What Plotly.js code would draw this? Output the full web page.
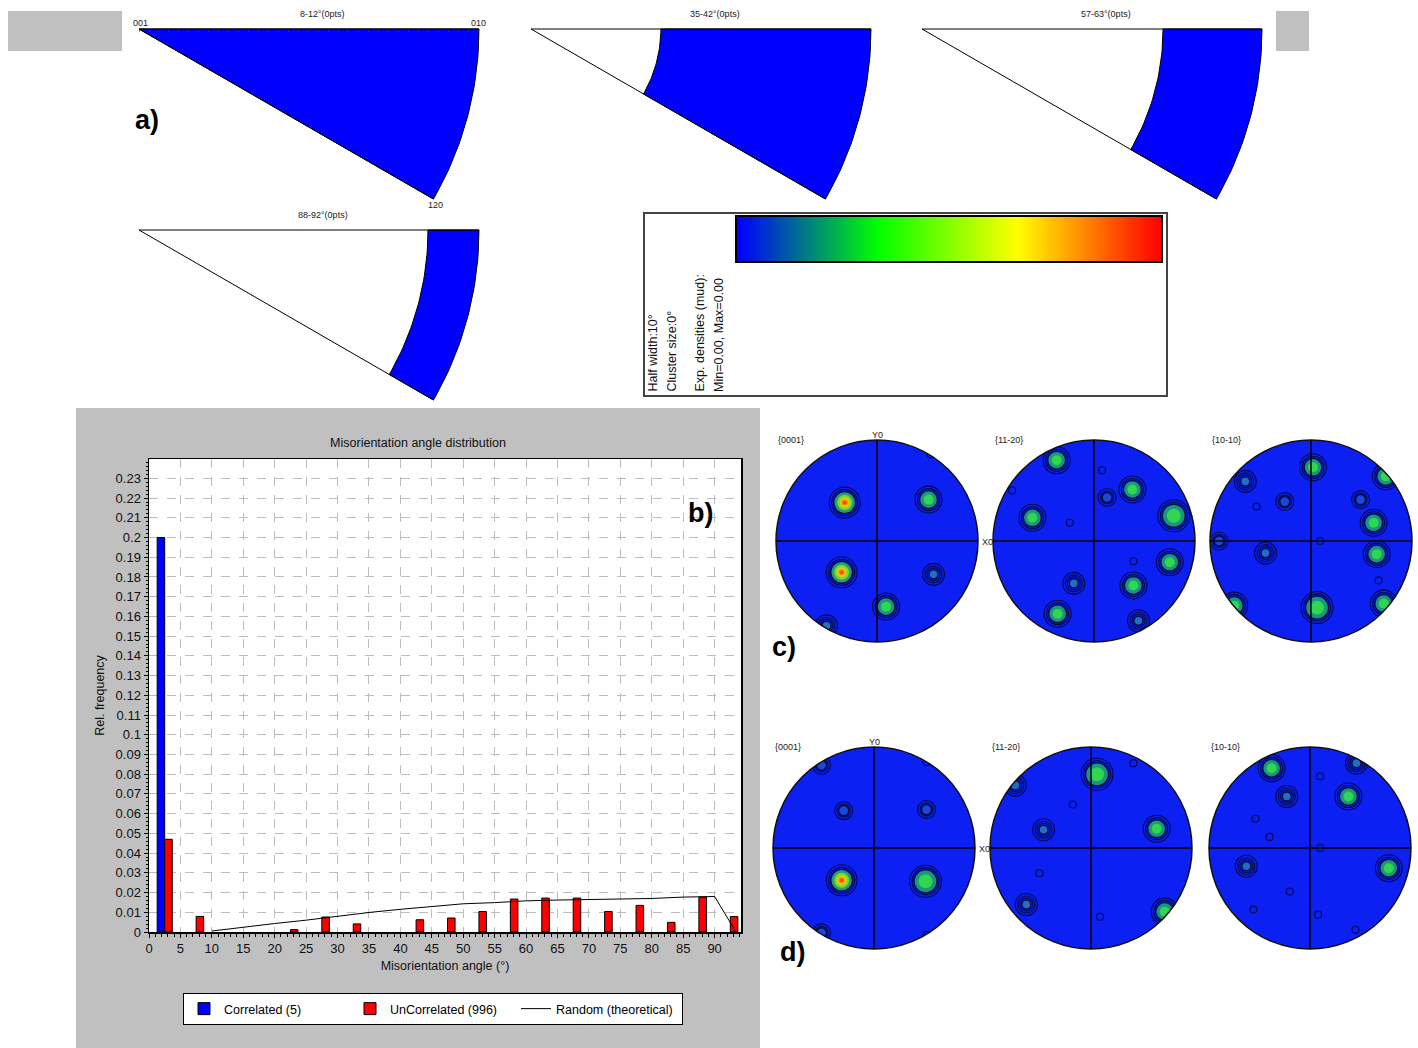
<!DOCTYPE html>
<html><head><meta charset="utf-8">
<script src="https://cdn.plot.ly/plotly-3.0.1.min.js"></script>
<style>html,body{margin:0;padding:0;background:#fff}</style>
</head><body><div id="chart" style="width:1418px;height:1048px"></div>
<script>
// ---------------- DATA ----------------
// b) misorientation angle histogram (5° bins)
const binCenters = [2.5,7.5,12.5,17.5,22.5,27.5,32.5,37.5,42.5,47.5,52.5,57.5,62.5,67.5,72.5,77.5,82.5,87.5,92.5];
const correlatedFreq = [0.2,null,null,null,null,null,null,null,null,null,null,null,null,null,null,null,null,null,null];
const uncorrelatedFreq = [0.047,0.0079,null,null,0.0012,0.0076,0.0041,null,0.0062,0.0071,0.0104,0.0167,0.0172,0.0172,0.0104,0.0135,0.0049,0.0177,0.0078];
const randomAngle = [10,12.5,20,25,30,35,40,45,50,55,60,65,70,75,80,85,90,93.4];
const randomFreq = [0.0005,0.0015,0.0043,0.006,0.008,0.0099,0.0115,0.0128,0.0143,0.0149,0.0158,0.0162,0.0165,0.0169,0.0170,0.0177,0.018,0];
const seriesNames = ['Correlated (5)','UnCorrelated (996)','Random (theoretical)'];
const xTickVals = [0,5,10,15,20,25,30,35,40,45,50,55,60,65,70,75,80,85,90];

// a) inverse pole figure sectors
const ipfTitles = ['8-12°(0pts)','35-42°(0pts)','57-63°(0pts)','88-92°(0pts)'];
const ipfInnerRadius = [0, 0.382, 0.709, 0.85];
const ipfCornerLabels = ['001','010','120'];

// colour key
const cbInfo = ['Half width:10°','Cluster size:0°','Exp. densities (mud):','Min=0.00, Max=0.00'];
const cbStops = [0,0.33,0.66,1];
const cbColors = ['rgb(0,0,255)','rgb(0,255,0)','rgb(255,255,0)','rgb(255,0,0)'];

// c), d) pole figures: spot positions (unit circle) and strength class
const pfNames = ['{0001}','{11-20}','{10-10}','{0001}','{11-20}','{10-10}'];
const pf1X = [-0.32,0.51,-0.35,0.56,0.09,-0.50,0.53];
const pf1Y = [0.38,0.41,-0.31,-0.33,-0.65,-0.84,0.86];
const pf1T = ['r','g','r','t','g','t','s'];
const pf2X = [-0.37,0.38,0.13,0.08,-0.81,-0.61,-0.24,0.79,0.75,0.39,0.39,-0.20,-0.36,0.44];
const pf2Y = [0.80,0.51,0.43,0.70,0.50,0.23,0.18,0.25,-0.21,-0.20,-0.44,-0.42,-0.72,-0.79];
const pf2T = ['g','g','b','s','s','g','s','G','g','s','g','t','g','t'];
const pf3X = [0.02,0.74,-0.65,-0.26,-0.54,0.49,0.62,-0.91,0.09,-0.45,0.65,0.67,0.06,0.72,-0.76];
const pf3Y = [0.73,0.64,0.59,0.39,0.34,0.41,0.18,0.0,0.0,-0.12,-0.13,-0.39,-0.66,-0.62,-0.64];
const pf3T = ['g','g','t','b','s','b','g','b','s','t','g','s','G','g','g'];
const pf4X = [-0.30,0.52,-0.32,0.51,-0.52,-0.52,0.52,0.52];
const pf4Y = [0.37,0.38,-0.32,-0.33,0.82,-0.84,0.85,-0.86];
const pf4T = ['b','b','r','G','b','b','s','s'];
const pf5X = [0.06,0.42,-0.75,-0.18,-0.47,0.65,-0.51,-0.64,0.73,0.09];
const pf5Y = [0.73,0.84,0.62,0.43,0.18,0.19,-0.25,-0.56,-0.63,-0.68];
const pf5T = ['G','s','t','s','t','g','s','t','g','s'];
const pf6X = [-0.38,0.46,0.10,-0.23,0.38,-0.54,-0.40,0.10,-0.63,0.78,-0.20,-0.56,0.08,0.45];
const pf6Y = [0.79,0.84,0.71,0.51,0.51,0.29,0.11,0.0,-0.18,-0.20,-0.43,-0.61,-0.66,-0.81];
const pf6T = ['g','t','s','t','g','s','s','s','t','g','s','s','s','s'];

// ---------------- LAYOUT GEOMETRY / STYLE ----------------
const W = 1418, H = 1048;
const px = x => x / W;
const py = y => 1 - y / H;
const FONT = 'Liberation Sans, Arial, sans-serif';
const ipfOrigin = [[139,29],[531,29],[922,29],[139,230]];
const ipfR = 340;
const pfCenter = [[877,541],[1094,541],[1311,541],[874,848],[1091,848],[1310,848]];
const pfR = 101;
const pfBlue = 'rgb(12,32,244)';
const spotStyle = {
  r: {rings:[31,26], layers:[[22,'#2fd24a'],[15,'#a8f000'],[10,'#ffd200'],[6,'#ff6000'],[3,'#ff1800']]},
  g: {rings:[27,22], layers:[[18,'#1ec850'],[10,'#3cf03c']]},
  G: {rings:[32,27], layers:[[23,'#1ec850'],[14,'#3cf03c']]},
  t: {rings:[22,17,13], layers:[[9,'#2a8fb2']]},
  b: {rings:[18,13], layers:[[10,'#1f5ad6']]},
  s: {rings:[7], layers:[]}
};

const traces = [];
const shapes = [];
const annotations = [];
function ann(text, x, y, size, extra) {
  annotations.push(Object.assign({text: text, xref:'paper', yref:'paper', x: px(x), y: py(y),
    xanchor:'center', yanchor:'middle', showarrow:false,
    font:{family:FONT, size:size, color:'#222'}}, extra || {}));
}
const layout = {
  width: W, height: H, autosize: false,
  margin: {l:0, r:0, t:0, b:0},
  paper_bgcolor: '#ffffff', plot_bgcolor: '#ffffff',
  font: {family: FONT, color: '#000'},
  showlegend: true,
  barmode: 'overlay',
  title: {text: 'Misorientation angle distribution', x: px(418), y: py(443), xanchor: 'center', yanchor: 'middle',
          xref: 'paper', yref: 'paper', font: {family: FONT, size: 12.5, color: '#111'}},
  legend: {orientation: 'h', x: px(183), y: py(993), xanchor: 'left', yanchor: 'top',
           bgcolor: '#ffffff', bordercolor: '#000', borderwidth: 1, font: {family: FONT, size: 12.5},
           entrywidth: 121, entrywidthmode: 'pixels'},
  shapes: shapes, annotations: annotations
};

// ---------- b) histogram ----------
const histDomX = [149, 741], histDomY = [459, 932];
shapes.push({type:'rect', xref:'paper', yref:'paper', x0:px(76), x1:px(760), y0:py(1048), y1:py(408),
             fillcolor:'#c0c0c0', line:{width:0}, layer:'below'});
shapes.push({type:'rect', xref:'paper', yref:'paper', x0:px(histDomX[0]), x1:px(histDomX[1]),
             y0:py(histDomY[1]), y1:py(histDomY[0]), fillcolor:'#ffffff', line:{width:0}, layer:'below'});
layout.xaxis = {domain:[px(histDomX[0]), px(histDomX[1])], range:[0, 94.2], anchor:'y', tickvals: xTickVals,
  ticks:'outside', ticklen:4, tickcolor:'#000', showline:true, mirror:true, linecolor:'#000', linewidth:1.5,
  showgrid:true, gridcolor:'#bdbdbd', griddash:'dash', gridwidth:1, zeroline:false,
  tickfont:{family:FONT, size:13, color:'#111'},
  minor:{dtick:1, tick0:0, ticks:'outside', ticklen:3, tickcolor:'#000', showgrid:false},
  title:{text:'Misorientation angle (°)', font:{family:FONT, size:12.5, color:'#111'}, standoff:6}};
layout.yaxis = {domain:[py(histDomY[1]), py(histDomY[0])], range:[0, 0.2398], anchor:'x', tick0:0, dtick:0.01,
  ticks:'outside', ticklen:4, tickcolor:'#000', showline:true, mirror:true, linecolor:'#000', linewidth:1.5,
  showgrid:true, gridcolor:'#bdbdbd', griddash:'dash', gridwidth:1, zeroline:false,
  tickfont:{family:FONT, size:13, color:'#111'},
  minor:{dtick:0.002, ticks:'outside', ticklen:2, tickcolor:'#000', showgrid:false},
  title:{text:'Rel. frequency', font:{family:FONT, size:12.5, color:'#111'}, standoff:8}};

traces.push({type:'bar', name:seriesNames[0], x:binCenters, y:correlatedFreq, width:1.2, offset:-1.2,
  marker:{color:'#0000ff', line:{color:'#000', width:1}}, xaxis:'x', yaxis:'y', hoverinfo:'x+y'});
traces.push({type:'bar', name:seriesNames[1], x:binCenters, y:uncorrelatedFreq, width:1.2, offset:0,
  marker:{color:'#ff0000', line:{color:'#000', width:1}}, xaxis:'x', yaxis:'y', hoverinfo:'x+y'});
traces.push({type:'scatter', mode:'lines', name:seriesNames[2], x:randomAngle, y:randomFreq,
  line:{color:'#000', width:1}, xaxis:'x', yaxis:'y'});

ann('<b>b)</b>', 700, 513, 27, {font:{family:FONT, size:27, color:'#000'}});

// ---------- a) inverse pole figure sectors ----------
const hiddenAxis = d => ({domain:d, showgrid:false, zeroline:false, showticklabels:false, ticks:'',
  showline:false, fixedrange:true});
const deg = Math.PI/180;
ipfTitles.forEach((title, i) => {
  const n = i + 3;
  const [ox, oy] = ipfOrigin[i];
  const xa = 'xaxis' + n, ya = 'yaxis' + n;
  layout[xa] = Object.assign(hiddenAxis([px(ox - 0.02*ipfR), px(ox + 1.02*ipfR)]), {range:[-0.02,1.02], anchor:'y'+n});
  layout[ya] = Object.assign(hiddenAxis([py(oy + 0.53*ipfR), py(oy - 0.02*ipfR)]), {range:[-0.53,0.02], anchor:'x'+n});
  if (i === 0) {
    // small tick marks along the 001-010 edge
    Object.assign(layout[xa], {anchor:'free', position:py(oy), side:'top', ticks:'inside', ticklen:2,
      tickcolor:'#444', tick0:0, dtick:0.0294, tickwidth:0.6});
  }
  const rin = ipfInnerRadius[i];
  const fx = [], fy = [];
  for (let a = 0; a <= 30; a++) { fx.push(Math.cos(-a*deg)); fy.push(Math.sin(-a*deg)); }
  if (rin > 0) { for (let a = 30; a >= 0; a--) { fx.push(rin*Math.cos(-a*deg)); fy.push(rin*Math.sin(-a*deg)); } }
  else { fx.push(0); fy.push(0); }
  fx.push(fx[0]); fy.push(fy[0]);
  traces.push({type:'scatter', mode:'lines', x:fx, y:fy, fill:'toself', fillcolor:'#0000ff',
    line:{color:'#000', width:1}, xaxis:'x'+n, yaxis:'y'+n, showlegend:false, hoverinfo:'skip'});
  traces.push({type:'scatter', mode:'lines', x:[1,0,Math.cos(30*deg)], y:[0,0,-Math.sin(30*deg)],
    line:{color:'#000', width:1}, xaxis:'x'+n, yaxis:'y'+n, showlegend:false, hoverinfo:'skip'});
  ann(title, ox + 0.54*ipfR, oy - 15, 9);
  if (i === 0) {
    const cpos = [[ox + 1, oy - 6], [ox + ipfR, oy - 6], [ox + 0.866*ipfR + 2, oy + 0.5*ipfR + 6]];
    ipfCornerLabels.forEach((lab, k) => ann(lab, cpos[k][0], cpos[k][1], 9));
  }
});
ann('<b>a)</b>', 147, 120, 27, {font:{family:FONT, size:27, color:'#000'}});
// grey boxes
shapes.push({type:'rect', xref:'paper', yref:'paper', x0:px(8), x1:px(122), y0:py(51), y1:py(11),
  fillcolor:'#c0c0c0', line:{width:0}, layer:'below'});
shapes.push({type:'rect', xref:'paper', yref:'paper', x0:px(1276), x1:px(1309), y0:py(51), y1:py(11),
  fillcolor:'#c0c0c0', line:{width:0}, layer:'below'});

// ---------- colour key ----------
shapes.push({type:'rect', xref:'paper', yref:'paper', x0:px(644), x1:px(1167), y0:py(396), y1:py(213),
  fillcolor:'#ffffff', line:{color:'#444', width:2}, layer:'below'});
const cbZ = [];
for (let k = 0; k <= 100; k++) cbZ.push(k);
layout.xaxis2 = Object.assign(hiddenAxis([px(736), px(1162)]), {anchor:'y2'});
layout.yaxis2 = Object.assign(hiddenAxis([py(262), py(216)]), {anchor:'x2'});
traces.push({type:'heatmap', z:[cbZ], xaxis:'x2', yaxis:'y2', zsmooth:'best', showscale:false,
  colorscale: cbStops.map((s, k) => [s, cbColors[k]]), hoverinfo:'skip'});
shapes.push({type:'rect', xref:'paper', yref:'paper', x0:px(736), x1:px(1162), y0:py(262), y1:py(216),
  line:{color:'#000', width:2}, layer:'above'});
const cbTextX = [653, 672, 700, 719];
cbInfo.forEach((t, k) => ann(t, cbTextX[k], 394, 12.5, {yanchor:'bottom', textangle:-90,
  font:{family:FONT, size:12.5, color:'#111'}}));

// ---------- c), d) pole figures ----------
const pfX = [pf1X, pf2X, pf3X, pf4X, pf5X, pf6X];
const pfY = [pf1Y, pf2Y, pf3Y, pf4Y, pf5Y, pf6Y];
const pfT = [pf1T, pf2T, pf3T, pf4T, pf5T, pf6T];
pfNames.forEach((name, i) => {
  const n = i + 7;
  const [cx, cy] = pfCenter[i];
  const e = 1.05;
  layout['xaxis' + n] = Object.assign(hiddenAxis([px(cx - e*pfR), px(cx + e*pfR)]), {range:[-e, e], anchor:'y'+n});
  layout['yaxis' + n] = Object.assign(hiddenAxis([py(cy + e*pfR), py(cy - e*pfR)]), {range:[-e, e], anchor:'x'+n});
  const xr = 'x' + n, yr = 'y' + n;
  shapes.push({type:'circle', xref:xr, yref:yr, x0:-1, x1:1, y0:-1, y1:1, fillcolor:pfBlue,
    line:{width:0}, layer:'below'});
  // contour rings
  const rx = [], ry = [], rs = [];
  pfT[i].forEach((t, k) => spotStyle[t].rings.forEach(s => { rx.push(pfX[i][k]); ry.push(pfY[i][k]); rs.push(s); }));
  // filled cores (drawn from outer to inner layer)
  for (let L = 0; L < 5; L++) {
    const lx = [], ly = [], ls = [], lc = [];
    pfT[i].forEach((t, k) => {
      const lay = spotStyle[t].layers[L];
      if (lay) { lx.push(pfX[i][k]); ly.push(pfY[i][k]); ls.push(lay[0]); lc.push(lay[1]); }
    });
    if (lx.length) traces.push({type:'scatter', mode:'markers', x:lx, y:ly, xaxis:xr, yaxis:yr,
      marker:{symbol:'circle', size:ls, color:lc, line:{color:'#000', width: L === 0 ? 1.4 : 0}},
      showlegend:false, hoverinfo:'skip'});
  }
  traces.push({type:'scatter', mode:'markers', x:rx, y:ry, xaxis:xr, yaxis:yr,
    marker:{symbol:'circle-open', size:rs, color:'#000', line:{width:1.1}}, showlegend:false, hoverinfo:'skip'});
  // cross lines, white mask outside the primitive circle, then the circle outline
  shapes.push({type:'line', xref:xr, yref:yr, x0:-1, x1:1, y0:0, y1:0, line:{color:'#000', width:1.5}, layer:'above'});
  shapes.push({type:'line', xref:xr, yref:yr, x0:0, x1:0, y0:-1, y1:1, line:{color:'#000', width:1.5}, layer:'above'});
  const maskW = 60, rc = 1 + (maskW / 2) / pfR + 0.004;
  shapes.push({type:'circle', xref:xr, yref:yr, x0:-rc, x1:rc, y0:-rc, y1:rc,
    line:{color:'#ffffff', width:maskW}, layer:'above'});
  shapes.push({type:'circle', xref:xr, yref:yr, x0:-1, x1:1, y0:-1, y1:1,
    line:{color:'#111', width:1.5}, layer:'above'});
  ann(name, cx - pfR, cy - pfR, 9, {xanchor:'left'});
  if (i === 0 || i === 3) {
    ann('Y0', cx, cy - pfR - 5, 9);
    ann('X0', cx + pfR + 2, cy + 1, 9, {xanchor:'left'});
  }
});
ann('<b>c)</b>', 784, 647, 27, {font:{family:FONT, size:27, color:'#000'}});
ann('<b>d)</b>', 792, 952, 27, {font:{family:FONT, size:27, color:'#000'}});

Plotly.newPlot('chart', traces, layout, {staticPlot:true, displayModeBar:false});
</script></body></html>
